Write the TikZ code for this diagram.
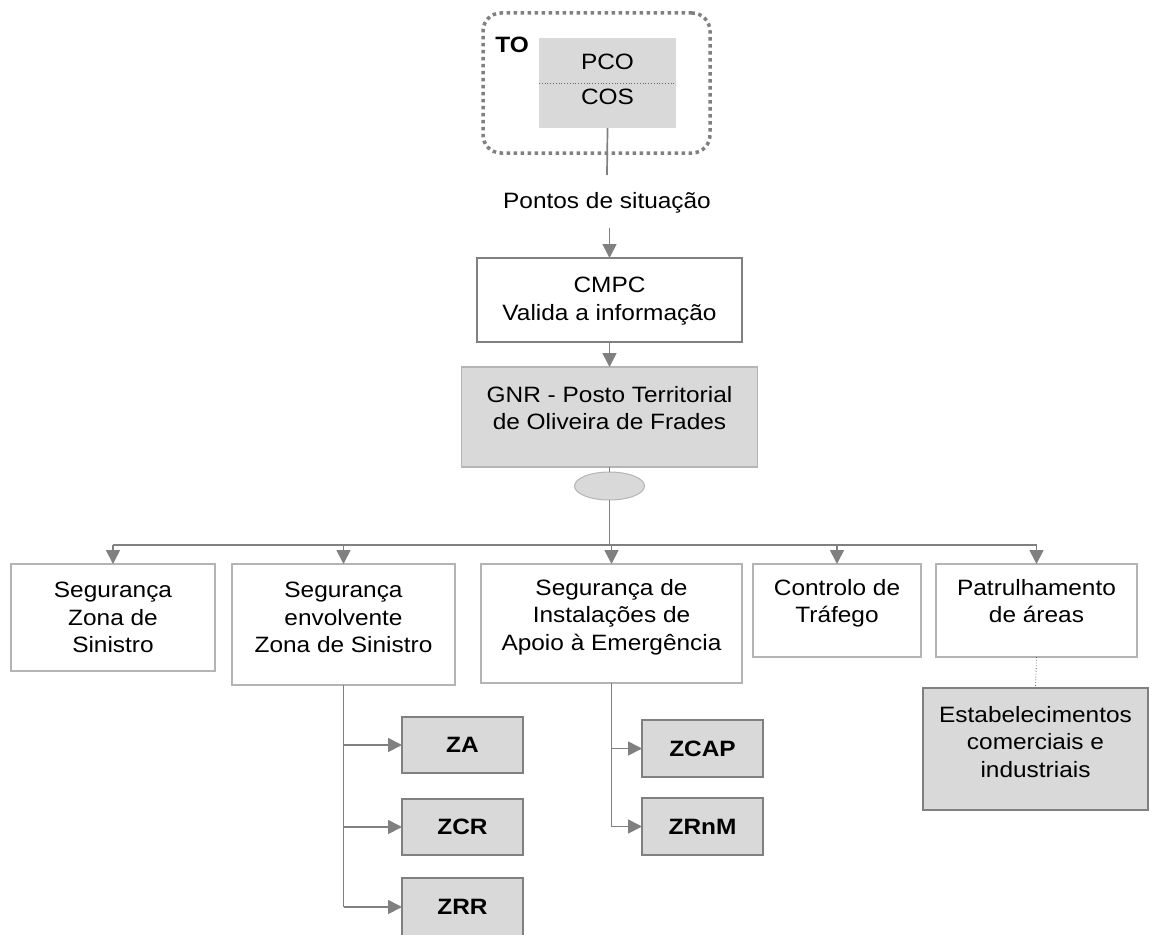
\documentclass[tikz,border=0pt]{standalone}
\usepackage{fontspec}
\setmainfont{Liberation Sans}[FakeStretch=1.1]
\usetikzlibrary{arrows.meta,shapes.geometric}
\definecolor{lnc}{HTML}{808080}
\definecolor{bdr}{HTML}{B4B4B4}
\definecolor{fillg}{HTML}{D9D9D9}
\begin{document}
\begin{tikzpicture}[x=1pt,y=-1pt,
  every node/.style={inner sep=0pt, outer sep=0pt},
  txt/.style={font=\fontsize{22.2}{27.5}\selectfont, align=center, anchor=north, text=black},
  wbox/.style={draw=bdr, line width=1.6pt, fill=white, rectangle},
  gbox/.style={draw=lnc, line width=2.5pt, fill=fillg, rectangle},
  zbox/.style={gbox, minimum width=121pt, font=\fontsize{22.2}{27.5}\selectfont\bfseries},
  conn/.style={draw=lnc, line width=1.7pt},
  arr/.style={conn, lnc, -{Triangle[length=14pt,width=14pt]}},
  dotln/.style={draw=lnc!80!black, line width=0.8pt, dotted}
]
\useasboundingbox (0,0) rectangle (1153,934);
% TO group
\node[draw=lnc, line width=3.5pt, dash pattern=on 3.5pt off 3.5pt, rounded corners=18pt, minimum width=227pt, minimum height=140pt] (to) at (596.5,83) {};
\node[fill=fillg, minimum width=137pt, minimum height=90pt] (pco) at (607.5,83) {};
\draw[dotln] (pco.west) -- (pco.east);
\node[txt, font=\fontsize{22.2}{27.5}\selectfont\bfseries] (tolbl) at (512,37) {TO};
\node[txt] (pcot) at (607.5,54) {PCO};
\node[txt] (cost) at (607.5,89) {COS};
\node[txt] (pontos) at (607,192) {Pontos de situação};
\draw[conn] (pco.south) -- ([yshift=17pt]pontos.north);
% CMPC
\node[draw=lnc, line width=2.5pt, fill=white, minimum width=265pt, minimum height=84pt] (cmpc) at (609.5,300) {};
\node[txt] (cmpct) at (609.5,277) {CMPC\\Valida a informação};
\coordinate (pa) at ([yshift=-15pt]pontos.south);
\draw[arr] (pa -| cmpc.north) -- (cmpc.north);
% GNR
\node[fill=fillg, draw=bdr, line width=1.2pt, minimum width=296pt, minimum height=100pt] (gnr) at (609.5,417) {};
\node[txt] (gnrt) at (609.5,386) {GNR - Posto Territorial\\de Oliveira de Frades};
\draw[arr] (cmpc.south) -- (gnr.north);
\node[ellipse, fill=fillg, draw=bdr, line width=1pt, minimum width=70pt, minimum height=28pt] (ell) at (609.5,486) {};
\draw[conn] (gnr.south) -- (ell.north);
\coordinate (bus) at (609.5,545);
\draw[conn] (ell.south) -- (bus);
% level boxes
\node[wbox, minimum width=204pt, minimum height=107pt] (b1) at (113,617.5) {};
\node[wbox, minimum width=223pt, minimum height=121pt] (b2) at (343.5,624.5) {};
\node[wbox, minimum width=261pt, minimum height=119pt] (b3) at (611.5,623.5) {};
\node[wbox, minimum width=168pt, minimum height=93pt] (b4) at (837,610.5) {};
\node[wbox, minimum width=201pt, minimum height=93pt] (b5) at (1036.5,610.5) {};
\node[txt] (t1) at (113,582) {Segurança\\Zona de\\Sinistro};
\node[txt] (t2) at (343.5,582) {Segurança\\envolvente\\Zona de Sinistro};
\node[txt] (t3) at (611.5,579) {Segurança de\\Instalações de\\Apoio à Emergência};
\node[txt] (t4) at (837,579) {Controlo de\\Tráfego};
\node[txt] (t5) at (1036.5,579) {Patrulhamento\\de áreas};
\draw[conn] (b1.north |- bus) -- (b5.north |- bus);
\foreach \b in {b1,b2,b3,b4,b5} \draw[arr] (\b.north |- bus) -- (\b.north);
% establishments
\node[gbox, minimum width=225pt, minimum height=122pt] (est) at (1035.5,749) {};
\node[txt] (estt) at (1035.5,706) {Estabelecimentos\\comerciais e\\industriais};
\draw[dotln] (b5.south) -- (est.north);
% zones
\node[zbox, minimum height=56pt] (za) at (462.5,745) {ZA};
\node[zbox, minimum height=56pt] (zcr) at (462.5,827) {ZCR};
\node[zbox, minimum height=58pt] (zrr) at (462.5,907) {ZRR};
\node[zbox, minimum height=57pt] (zcap) at (702.5,748.5) {ZCAP};
\node[zbox, minimum height=57pt] (zrnm) at (702.5,826.5) {ZRnM};
\draw[conn] (b2.south) -- (b2.south |- zrr.west);
\foreach \z in {za,zcr,zrr} \draw[arr] (b2.south |- \z.west) -- (\z.west);
\draw[conn] (b3.south) -- (b3.south |- zrnm.west);
\foreach \z in {zcap,zrnm} \draw[arr] (b3.south |- \z.west) -- (\z.west);
\end{tikzpicture}
\end{document}
